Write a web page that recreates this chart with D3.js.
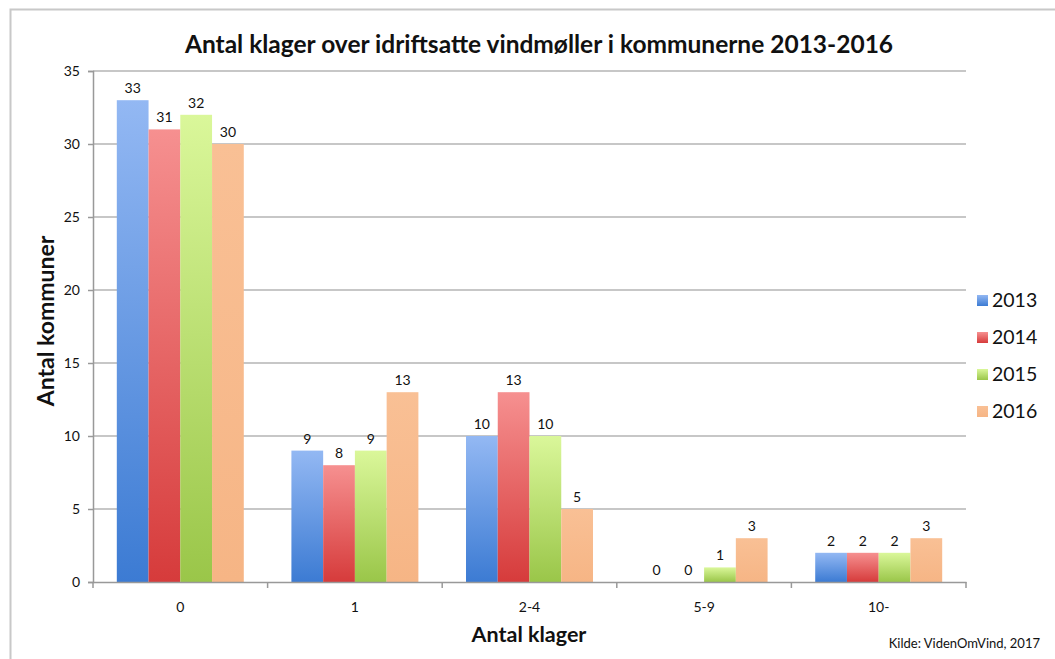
<!DOCTYPE html>
<html><head><meta charset="utf-8">
<script src="https://cdn.jsdelivr.net/npm/d3@7"></script>
<style>body{margin:0;background:#fff;}svg{display:block;font-family:Lato,"Open Sans",sans-serif;}</style>
</head><body>
<svg id="c" width="1055" height="659"></svg>
<script>
const categories = ["0","1","2-4","5-9","10-"];
const years = ["2013","2014","2015","2016"];
const v2013 = [33,9,10,0,2];
const v2014 = [31,8,13,0,2];
const v2015 = [32,9,10,1,2];
const v2016 = [30,13,5,3,3];
const yTicks = [0,5,10,15,20,25,30,35];
const series = [v2013,v2014,v2015,v2016];
const colTop = ["#93b8f3","#f69090","#daf79a","#f9c095"];
const colBot = ["#3c7bd3","#d63b3b","#9ac649","#f6b585"];

const svg = d3.select("#c");
const defs = svg.append("defs");
years.forEach((y,i)=>{
  const g = defs.append("linearGradient").attr("id","g"+i).attr("x1",0).attr("y1",0).attr("x2",0).attr("y2",1);
  g.append("stop").attr("offset","0%").attr("stop-color",colTop[i]);
  g.append("stop").attr("offset","100%").attr("stop-color",colBot[i]);
});
// frame
svg.append("rect").attr("x",10.5).attr("y",9.5).attr("width",1100).attr("height",700).attr("fill","none").attr("stroke","#c8c8c8").attr("stroke-width",2);

const L=93,R=966,T=71,B=582;
const x = d3.scaleBand().domain(categories).range([L,R]);
const xi = d3.scaleBand().domain(years).range([0,x.bandwidth()]).paddingOuter(0.75).paddingInner(0);
const y = d3.scaleLinear().domain([0,35]).range([B,T]);

// grid
svg.append("g").selectAll("line").data(yTicks.filter(d=>d>0)).join("line")
  .attr("x1",L).attr("x2",R).attr("y1",d=>y(d)).attr("y2",d=>y(d))
  .attr("stroke","#b4b4b4").attr("stroke-width",1.5);

// bars
categories.forEach((c,ci)=>{
  years.forEach((yr,si)=>{
    const val = series[si][ci];
    const bx = x(c)+xi(yr);
    if(val>0){
      svg.append("rect").attr("x",bx).attr("y",y(val)).attr("width",xi.bandwidth()).attr("height",y(0)-y(val))
        .attr("fill","url(#g"+si+")");
    }
    svg.append("text").attr("x",bx+xi.bandwidth()/2).attr("y",y(val)-7)
      .attr("text-anchor","middle").attr("font-size",14).attr("fill","#111").text(val);
  });
});

// axes
const ya = d3.axisLeft(y).tickValues(yTicks).tickSize(5).tickPadding(8);
const gy = svg.append("g").attr("transform",`translate(${L},0)`).call(ya);
gy.select(".domain").attr("stroke","#999").attr("stroke-width",1.5);
gy.selectAll(".tick line").attr("stroke","#999").attr("stroke-width",1.5);
gy.selectAll("text").attr("font-size",14).attr("fill","#111").attr("font-family","Lato,sans-serif");

const xa = d3.axisBottom(x).tickSize(0).tickPadding(20);
const gx = svg.append("g").attr("transform",`translate(0,${B})`).call(xa);
gx.select(".domain").attr("stroke","#999").attr("stroke-width",1.5);
gx.selectAll("text").attr("font-size",14).attr("fill","#111").attr("font-family","Lato,sans-serif");
// boundary ticks
svg.append("g").selectAll("line").data(categories.map(c=>x(c)).concat([R])).join("line")
  .attr("x1",d=>d).attr("x2",d=>d).attr("y1",B).attr("y2",B+6).attr("stroke","#999").attr("stroke-width",1.5);

// title
svg.append("text").attr("x",539).attr("y",53).attr("text-anchor","middle").attr("font-size",24.5).attr("font-weight","bold").attr("fill","#111")
  .text("Antal klager over idriftsatte vindmøller i kommunerne 2013-2016");
svg.append("text").attr("transform","translate(54,321) rotate(-90)").attr("text-anchor","middle").attr("font-size",23).attr("font-weight","bold").attr("fill","#111")
  .text("Antal kommuner");
svg.append("text").attr("x",529).attr("y",642).attr("text-anchor","middle").attr("font-size",21.5).attr("font-weight","bold").attr("fill","#111")
  .text("Antal klager");
svg.append("text").attr("x",1040).attr("y",648).attr("text-anchor","end").attr("font-size",13).attr("fill","#111")
  .text("Kilde: VidenOmVind, 2017");

// legend
const lg = svg.append("g");
years.forEach((yr,i)=>{
  const ly = 306 + i*37;
  lg.append("rect").attr("x",977).attr("y",ly-11).attr("width",11).attr("height",11).attr("fill","url(#g"+i+")");
  lg.append("text").attr("x",992).attr("y",ly+1).attr("font-size",19.5).attr("fill","#111").text(yr);
});
</script>
</body></html>
